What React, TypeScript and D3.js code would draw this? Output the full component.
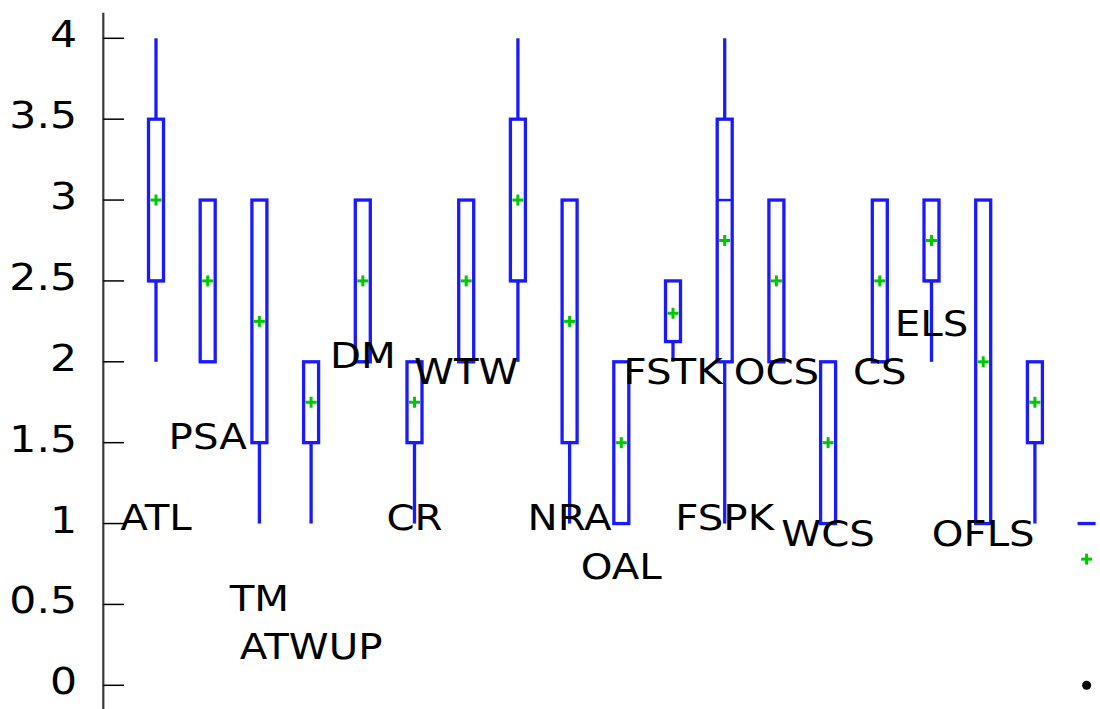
import React from 'react';
import * as d3 from 'd3';

// one entry per box, x position = index + 1
const whiskerLow = [2, 2, 1, 1, 2, 1, 2, 2, 1, 1, 2, 1, 2, 1, 2, 2, 1, 1];
const boxLow = [2.5, 2, 1.5, 1.5, 2, 1.5, 2, 2.5, 1.5, 1, 2.125, 2, 2, 1, 2, 2.5, 1, 1.5];
const medians = [2.5, 2, 1.5, 1.5, 2, 1.5, 2, 2.5, 1.5, 1, 2.125, 3, 2, 1, 2, 2.5, 1, 1.5];
const boxHigh = [3.5, 3, 3, 2, 3, 2, 3, 3.5, 3, 2, 2.5, 3.5, 3, 2, 3, 3, 3, 2];
const whiskerHigh = [4, 3, 3, 2, 3, 2, 3, 4, 3, 2, 2.5, 4, 3, 2, 3, 3, 3, 2];
const means = [3, 2.5, 2.25, 1.75, 2.5, 1.75, 2.5, 3, 2.25, 1.5, 2.3, 2.75, 2.5, 1.5, 2.5, 2.75, 2, 1.75];

// text labels placed at (x, y) in data coordinates
const labelText = ['ATL', 'PSA', 'TM', 'ATWUP', 'DM', 'CR', 'WTW', 'NRA', 'OAL', 'FSTK', 'FSPK', 'OCS', 'WCS', 'CS', 'ELS', 'OFLS'];
const labelX = [1, 2, 3, 4, 5, 6, 7, 9, 10, 11, 12, 13, 14, 15, 16, 17];
const labelY = [1, 1.5, 0.5, 0.2, 2, 1, 1.9, 1, 0.7, 1.9, 1, 1.9, 0.9, 1.9, 2.2, 0.9];

const yTicks = [0, 0.5, 1, 1.5, 2, 2.5, 3, 3.5, 4];

// key samples at the right edge
const keyX = 19;
const keyBoxLevel = 1;
const keyMeanLevel = 0.78;
const keyPointLevel = 0;

const BLUE = '#1a1aff';
const GREEN = '#00c800';
const FONT = 'DejaVu Sans, Verdana, sans-serif';

const BoxPlot = () => {
  const width = 1100;
  const height = 709;
  const boxHalf = 7.5;
  const plus = 5.5;
  const stretch = 1.12;

  const xScale = d3.scaleLinear().domain([0, 19]).range([104.3, 1086.6]);
  const yScale = d3.scaleLinear().domain([0, 4]).range([685.3, 38.3]);

  return (
    <svg width={width} height={height} style={{ position: 'absolute', left: 0, top: 0, background: '#fff' }} fontFamily={FONT}>
      {/* axis */}
      <line x1={103.3} x2={103.3} y1={12.7} y2={height} stroke='#3a3a3a' strokeWidth={2.2} />
      {yTicks.map(t =>
        <g key={`tick-${t}`}>
          <line x1={103.3} x2={124} y1={yScale(t)} y2={yScale(t)} stroke='#000' strokeWidth={1.5} />
          <text transform={`translate(77,${yScale(t)}) scale(${stretch},1)`} dy={9} textAnchor='end' fontSize={38} fill='#000'>{t}</text>
        </g>
      )}

      {/* boxes */}
      {boxLow.map((d, i) => {
        const cx = xScale(i + 1);
        return (
          <g key={`box-${i}`} stroke={BLUE} strokeWidth={3.3} fill='none'>
            {whiskerHigh[i] > boxHigh[i] &&
              <line x1={cx} x2={cx} y1={yScale(whiskerHigh[i])} y2={yScale(boxHigh[i])} />}
            {whiskerLow[i] < d &&
              <line x1={cx} x2={cx} y1={yScale(d)} y2={yScale(whiskerLow[i])} />}
            <rect x={cx - boxHalf} y={yScale(boxHigh[i])} width={boxHalf * 2} height={yScale(d) - yScale(boxHigh[i])} />
            <line x1={cx - boxHalf} x2={cx + boxHalf} y1={yScale(medians[i])} y2={yScale(medians[i])} strokeWidth={2.5} />
          </g>
        );
      })}

      {/* means */}
      {means.map((m, i) =>
        <g key={`mean-${i}`} stroke={GREEN} strokeWidth={3}>
          <line x1={xScale(i + 1) - plus} x2={xScale(i + 1) + plus} y1={yScale(m)} y2={yScale(m)} />
          <line x1={xScale(i + 1)} x2={xScale(i + 1)} y1={yScale(m) - plus} y2={yScale(m) + plus} />
        </g>
      )}

      {/* labels */}
      {labelText.map((t, i) =>
        <text key={`label-${t}`} transform={`translate(${xScale(labelX[i])},${yScale(labelY[i])}) scale(${stretch},1)`} dy={6.5} textAnchor='middle' fontSize={36} fill='#000'>{t}</text>
      )}

      {/* key samples */}
      <line x1={xScale(keyX) - 9} x2={xScale(keyX) + 9} y1={yScale(keyBoxLevel)} y2={yScale(keyBoxLevel)} stroke={BLUE} strokeWidth={3.3} />
      <g stroke={GREEN} strokeWidth={3}>
        <line x1={xScale(keyX) - plus} x2={xScale(keyX) + plus} y1={yScale(keyMeanLevel)} y2={yScale(keyMeanLevel)} />
        <line x1={xScale(keyX)} x2={xScale(keyX)} y1={yScale(keyMeanLevel) - plus} y2={yScale(keyMeanLevel) + plus} />
      </g>
      <circle cx={xScale(keyX)} cy={yScale(keyPointLevel)} r={4.5} fill='#000' />
    </svg>
  );
};

export default function App() {
  return <BoxPlot />;
}
